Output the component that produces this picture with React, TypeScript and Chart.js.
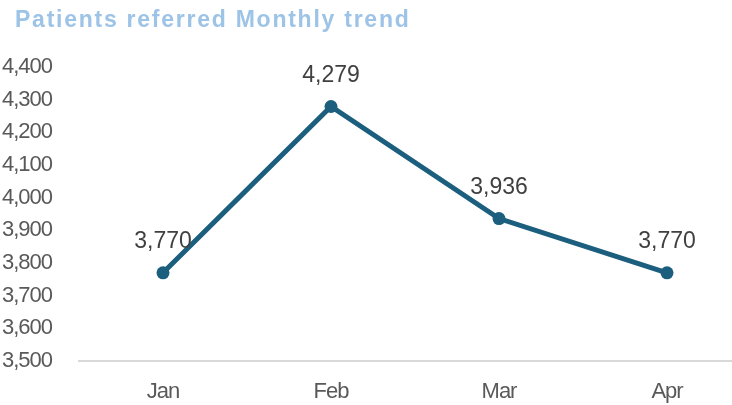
import React, { useEffect, useRef } from "react";
import { Chart, registerables } from "chart.js";

Chart.register(...registerables);

const TITLE = "Patients referred Monthly trend";
const categories = ["Jan", "Feb", "Mar", "Apr"];
const referred = [3770, 4279, 3936, 3770];
const yTicks = [3500, 3600, 3700, 3800, 3900, 4000, 4100, 4200, 4300, 4400];

const OFF = 4;
const LINE_COLOR = "#1B5E7E";

const fmt = (v: number) => v.toLocaleString("en-US");

const spacingPlugin = {
  id: "spacing",
  beforeUpdate(chart: any) {
    (chart.ctx as any).letterSpacing = "-1px";
  },
  beforeDraw(chart: any) {
    (chart.ctx as any).letterSpacing = "-1px";
  },
};

const dataLabelPlugin = {
  id: "dataLabels",
  afterDatasetsDraw(chart: any) {
    const ctx = chart.ctx;
    const meta = chart.getDatasetMeta(0);
    ctx.save();
    (ctx as any).letterSpacing = "0px";
    ctx.font = "23px 'Liberation Sans', Arial, sans-serif";
    ctx.fillStyle = "#404040";
    ctx.textAlign = "center";
    ctx.textBaseline = "alphabetic";
    meta.data.forEach((pt: any, i: number) => {
      ctx.fillText(fmt(referred[i]), pt.x, pt.y - 24.5);
    });
    ctx.restore();
  },
};

export default function App() {
  const ref = useRef<HTMLCanvasElement>(null);

  useEffect(() => {
    document.body.style.margin = "0";
    document.body.style.overflow = "hidden";
    const chart = new Chart(ref.current!, {
      type: "line",
      data: {
        labels: categories,
        datasets: [
          {
            data: referred,
            borderColor: LINE_COLOR,
            backgroundColor: LINE_COLOR,
            borderWidth: 5,
            pointRadius: 6.5,
            pointHoverRadius: 6.5,
            pointBackgroundColor: LINE_COLOR,
            pointBorderColor: LINE_COLOR,
            pointBorderWidth: 0,
            tension: 0,
            clip: false as any,
          },
        ],
      },
      options: {
        animation: false,
        responsive: false,
        maintainAspectRatio: false,
        layout: { autoPadding: false, padding: { top: 67, left: 0, right: 0, bottom: 0 } },
        plugins: {
          legend: { display: false },
          title: { display: false },
          tooltip: { enabled: false },
        },
        scales: {
          x: {
            type: "category",
            offset: true,
            grid: { display: false, drawTicks: false },
            border: { display: true, color: "#D9D9D9", width: 2 },
            ticks: {
              color: "#595959",
              font: { family: "'Liberation Sans', Arial, sans-serif", size: 22 },
              padding: 18,
              maxRotation: 0,
            },
            afterFit: (s: any) => {
              s.height = 44;
            },
          },
          y: {
            min: 3500,
            max: 4400,
            afterBuildTicks: (s: any) => {
              s.ticks = yTicks.map((v) => ({ value: v }));
            },
            grid: { display: false, drawTicks: false },
            border: { display: false },
            ticks: {
              color: "#595959",
              font: { family: "'Liberation Sans', Arial, sans-serif", size: 22 },
              padding: 27,
              callback: (v: any) => fmt(Number(v)),
            },
            afterFit: (s: any) => {
              s.width = 79 + OFF;
            },
          },
        },
      },
      plugins: [spacingPlugin, dataLabelPlugin],
    });
    return () => chart.destroy();
  }, []);

  return (
    <div
      style={{
        position: "fixed",
        left: 0,
        top: 0,
        width: 732,
        height: 405,
        overflow: "hidden",
        background: "#ffffff",
      }}
    >
      <canvas
        ref={ref}
        width={755}
        height={405}
        style={{ position: "absolute", left: -OFF, top: 0, width: 755, height: 405 }}
      />
      <div
        style={{
          position: "absolute",
          left: 15,
          top: 8,
          fontFamily: "'Liberation Sans', Arial, sans-serif",
          fontWeight: "bold",
          fontSize: 23,
          lineHeight: 1,
          letterSpacing: "1.75px",
          color: "#9DC3E6",
          whiteSpace: "nowrap",
        }}
      >
        {TITLE}
      </div>
    </div>
  );
}
